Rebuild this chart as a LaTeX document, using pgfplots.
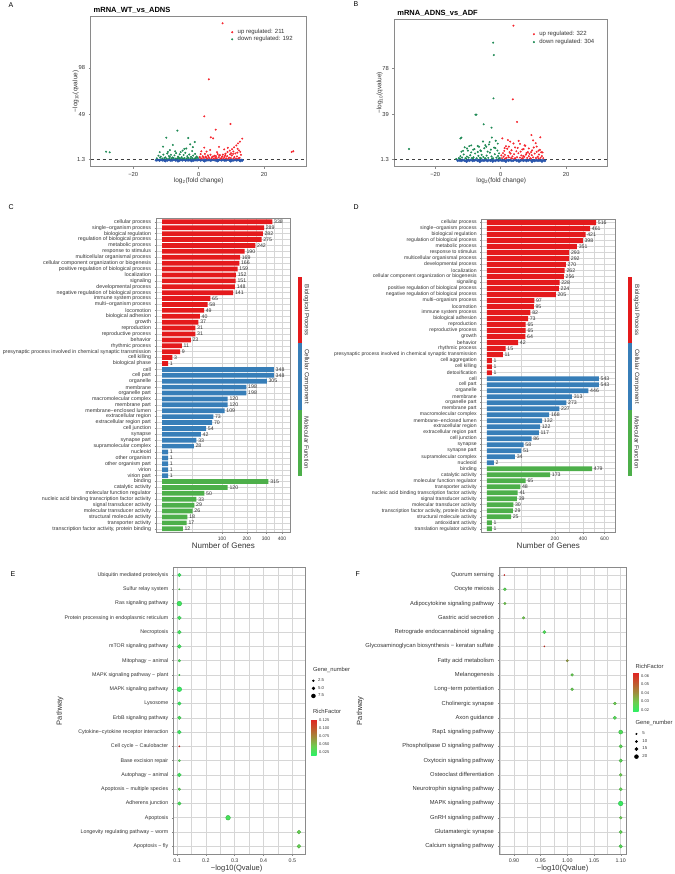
\documentclass[border=0pt]{standalone}
\usepackage{fontspec}
\setmainfont{Liberation Sans}
\usepackage{pgfplots}
\usepackage{pgfplotstable}
\pgfplotsset{compat=1.18}
\newcommand{\fs}[1]{\fontsize{#1}{#1}\selectfont}
\definecolor{bpred}{HTML}{E41A1C}
\definecolor{ccblue}{HTML}{377EB8}
\definecolor{mfgreen}{HTML}{4DAF4A}
\definecolor{vred}{HTML}{F5262E}
\definecolor{vgreen}{HTML}{1F8A55}
\definecolor{vblue}{HTML}{2956AD}
\definecolor{framec}{HTML}{8A8A8A}
\definecolor{gridc}{HTML}{D6D6D6}
\definecolor{txt}{HTML}{333333}

\pgfplotstableread{
i n
0 338
1 289
2 282
3 275
4 242
5 190
6 169
7 166
8 159
9 152
10 151
11 148
12 141
13 65
14 58
15 49
16 40
17 37
18 31
19 31
20 23
21 11
22 9
23 3
24 1
}\CBP
\pgfplotstableread{
i n
25 348
26 348
27 305
28 198
29 198
30 120
31 120
32 109
33 73
34 70
35 54
36 42
37 33
38 28
39 1
40 1
41 1
42 1
43 1
}\CCC
\pgfplotstableread{
i n
44 315
45 120
46 50
47 33
48 29
49 26
50 18
51 17
52 12
}\CMF
\pgfplotstableread{
i n
0 516
1 461
2 421
3 398
4 351
5 293
6 292
7 270
8 262
9 256
10 228
11 224
12 205
13 97
14 95
15 82
16 73
17 65
18 65
19 64
20 42
21 15
22 11
23 1
24 1
25 1
}\DBP
\pgfplotstableread{
i n
26 543
27 543
28 446
29 313
30 273
31 227
32 168
33 132
34 122
35 117
36 86
37 58
38 51
39 34
40 2
}\DCC
\pgfplotstableread{
i n
41 479
42 173
43 65
44 48
45 41
46 39
47 30
48 29
49 25
50 1
51 1
}\DMF
\pgfplotstableread{
i x n rf
0 0.108 6 0.022
1 0.108 1 0.035
2 0.108 9 0.024
3 0.108 7 0.025
4 0.108 7 0.025
5 0.108 7 0.025
6 0.108 4 0.030
7 0.108 1 0.030
8 0.108 9 0.020
9 0.108 6 0.022
10 0.108 6 0.028
11 0.108 7 0.022
12 0.108 1 0.125
13 0.108 3 0.035
14 0.108 7 0.025
15 0.108 4 0.035
16 0.108 6 0.028
17 0.277 9 0.028
18 0.523 7 0.040
19 0.523 7 0.040
}\Edat
\pgfplotstableread{
i x n rf
0 0.882 2 0.063
1 0.883 13 0.026
2 0.883 10 0.030
3 0.918 11 0.030
4 0.957 16 0.024
5 0.957 2 0.060
6 1.000 9 0.038
7 1.009 12 0.028
8 1.009 12 0.028
9 1.089 13 0.029
10 1.089 16 0.025
11 1.100 20 0.024
12 1.100 16 0.026
13 1.100 16 0.026
14 1.100 13 0.029
15 1.100 15 0.027
16 1.100 24 0.020
17 1.100 12 0.029
18 1.100 15 0.027
19 1.100 17 0.025
}\Fdat

\pgfplotsset{
  /pgf/number format/assume math mode=true,
  colorbar shift/.style={},
  colormap={rf}{rgb255(0cm)=(45,240,100); rgb255(1cm)=(110,205,80); rgb255(2cm)=(160,140,60); rgb255(3cm)=(195,85,45); rgb255(4cm)=(225,35,35)},
  vpt/.style={only marks, mark=*, mark size=0.8pt, mark options={draw=none, fill=#1}, color=#1},
  volc/.style={scale only axis, axis line style={framec,line width=0.9pt},
    tick style={framec,line width=0.5pt}, tick align=outside, major tick length=2pt,
    xtick pos=lower, ytick pos=left, ticklabel style={font=\fs{5.8}, text=txt},
    label style={font=\fs{6.5}, text=txt}, legend cell align=left,
    legend image code/.code={\path[draw=none,fill=none] (-1pt,-1pt) rectangle (1pt,1pt); \draw[##1] plot coordinates {(0pt,0pt)};}},
  gob/.style={scale only axis, y dir=reverse, axis line style={framec,line width=0.7pt},
    tick style={framec,line width=0.4pt}, tick align=outside, major tick length=1.5pt, minor tick length=0pt,
    xtick pos=lower, ytick pos=left, xmajorgrids, ymajorgrids, xminorgrids,
    grid style={gridc,line width=0.45pt}, minor grid style={gridc,line width=0.3pt},
    ticklabel style={font=\fs{5.3}, text=txt}, xticklabel style={font=\fs{5}},
    label style={font=\fs{8}, text=txt}, clip=false,
    nodes near coords style={font=\fs{5.2}, text=txt, anchor=west, inner sep=1pt, xshift=0.6pt},
    bar width=0.8},
  dotax/.style={scale only axis, y dir=reverse, axis line style={framec,line width=0.7pt},
    tick style={framec,line width=0.4pt}, tick align=outside, major tick length=1.5pt, minor tick length=0pt,
    xtick pos=lower, ytick pos=left, ytick={0,...,19}, xmajorgrids, ymajorgrids, xminorgrids,
    grid style={gridc,line width=0.5pt}, minor grid style={gridc,line width=0.35pt},
    ticklabel style={font=\fs{5.3}, text=txt}, label style={font=\fs{7.5}, text=txt},
    ymin=-0.54, ymax=19.54, colormap name=rf, clip=false,
    legend style={draw=none, fill=none, inner sep=0pt, nodes={inner sep=0pt}, cells={anchor=west},
      row sep=3.1pt, font=\fs{4.3}, text=txt}},
  szimg/.style={legend image code/.code={\path[draw=none,fill=none] (-2.2pt,-2.2pt) rectangle (2.2pt,2.2pt); \fill[black] (0pt,0pt) circle (#1);}},
}

\begin{document}
\begin{tikzpicture}
\path[use as bounding box] (0,0) rectangle (674pt,-874pt);

% ---------------- Panel A ----------------
\node[anchor=west, font=\fs{7}] at (5pt,-5pt) {A};
\node[anchor=west, font=\bfseries\fs{7.5}] at (90.2pt,-10.8pt) {mRNA\_WT\_vs\_ADNS};
\begin{axis}[volc, at={(90.7pt,-16pt)}, anchor=north west, width=216pt, height=150.7pt,
  xmin=-33, xmax=33, ymin=-6.5, ymax=153,
  xtick={-20,0,20}, xticklabels={−20,0,20}, ytick={1.3,49,98}, yticklabels={1.3,49,98},
  xlabel={log\textsubscript{2}(fold change)}, ylabel={−log\textsubscript{10}(qvalue)},
  xlabel style={at={(axis description cs:0.5,-0.094)}, anchor=center},
  ylabel style={at={(axis description cs:-0.07,0.5)}, anchor=center},
  legend style={at={(0.6495,0.913)}, anchor=north west, draw=none, fill=none, inner sep=0pt,
    nodes={inner sep=0pt}, cells={anchor=west}, row sep=1.2pt, column sep=4.5pt, font=\fs{6}, text=txt}]
\addplot[forget plot, vpt=vblue, mark size=1.25pt] coordinates {
(-13,0.3) (-12.5,0.6) (-12,0.2) (-11.5,0.7) (-11,0.4) (-10.5,0.1) (-10,0.6) (-9.5,0.3) (-9,0.8) (-8.5,0.2)
(-8,0.5) (-7.5,0.9) (-7,0.3) (-6.5,0.6) (-6,0.1) (-5.5,0.7) (-5,0.4) (-4.5,0.9) (-4,0.2) (-3.5,0.6)
(-3,0.3) (-2.5,0.8) (-2,0.5) (-1.5,0.2) (-1,0.7) (-0.5,0.4) (0,0.9) (0.5,0.3) (1,0.6) (1.5,0.1)
(2,0.8) (2.5,0.4) (3,0.7) (3.5,0.2) (4,0.5) (4.5,0.9) (5,0.3) (5.5,0.6) (6,0.2) (6.5,0.8)
(7,0.4) (7.5,0.7) (8,0.1) (8.5,0.5) (9,0.9) (9.5,0.3) (10,0.6) (10.5,0.2) (11,0.7) (11.5,0.4)
(12,0.6) (12.5,0.3) (13,0.5) (13.3,0.2) (-10.2,-0.4) (-6.3,-0.6) (-2.2,-0.3) (1.8,-0.5) (5.7,-0.4) (9.8,-0.6) (12.7,-0.3)};
\addplot[forget plot, no marks, dashed, black!75, line width=0.5pt] coordinates {(-33,1.3) (33,1.3)};
\addplot[vpt=vred] coordinates {
(7.3,145.3) (3.1,86) (1.7,46.8) (5.2,32.7) (9.7,38.7) (4.4,23.5) (13.3,23.2) (12.6,20) (12,18.2) (3.7,24.6)
(1.7,13.7) (28.4,9.1) (28.9,9.8) (11.5,16) (10.8,14) (11.9,12.5) (10.2,12) (9.5,10.5) (10.6,9.6) (8.8,9)
(12.3,10.8) (9.9,7.8) (8.2,7.2) (11.2,7.5) (7.4,6.3) (6.5,5.8) (5.8,6.9) (4.9,5.1) (3.6,6.2) (2.8,5.5)
(1.9,7.1) (1.2,4.6) (0.6,6.8) (0.3,3.9) (2.3,3.2) (3.3,2.6) (4.1,3.7) (5.1,2.9) (6.1,3.4) (7.0,2.5)
(7.9,3.9) (8.7,4.6) (9.3,3.1) (10.1,5.4) (10.9,3.6) (11.7,4.4) (12.5,2.8) (12.9,6.1) (0.9,2.2) (1.6,2.6)
(2.6,2.1) (3.9,2.3) (4.6,2.0) (5.5,2.4) (6.7,2.1) (7.6,2.3) (8.4,2.2) (9.1,2.0) (9.8,2.6) (10.6,2.2)
(11.4,2.1) (12.1,2.4) (0.4,2.8) (1.4,3.6) (2.1,4.2) (3.0,3.9) (4.4,4.4) (5.3,4.6) (6.3,5.2) (7.2,4.3)
(8.1,5.6) (9.6,6.6) (10.5,7.0) (11.8,8.4) (12.7,9.2) (2.4,9.5) (5.6,8.9) (0.8,9.8) (3.5,11.2) (7.8,11.8)
(6.2,14.5) (8.9,13.5)};
\addlegendentry{up regulated: 211}
\addplot[vpt=vgreen] coordinates {
(-6.5,31.7) (-9.9,24.2) (-3.2,23.9) (-7.9,16.5) (-10.9,14.7) (-2.6,17.2) (-28.3,9.4) (-27.2,8.7) (-4.9,10.5) (-3.8,12.8)
(-1.8,14.2) (-1.2,19.6) (-11.9,8.9) (-8.8,11) (-12.3,5.2) (-11.6,4.1) (-10.8,6.3) (-10.2,3.4) (-9.6,7.5) (-9.1,4.8)
(-8.5,6.1) (-8.0,3.3) (-7.4,5.5) (-6.9,7.9) (-6.3,4.2) (-5.8,6.6) (-5.2,3.6) (-4.6,5.9) (-4.1,8.2) (-3.5,4.7)
(-2.9,6.4) (-2.3,3.9) (-1.7,5.3) (-1.1,7.1) (-0.6,4.4) (-0.3,2.9) (-12.8,2.4) (-11.1,2.2) (-10.5,2.6) (-9.8,2.1)
(-9.0,2.5) (-8.3,2.2) (-7.7,2.7) (-7.0,2.1) (-6.5,2.4) (-5.9,2.0) (-5.4,2.6) (-4.8,2.2) (-4.3,2.5) (-3.7,2.1)
(-3.1,2.7) (-2.5,2.2) (-1.9,2.5) (-1.3,2.1) (-0.8,2.4) (-11.8,3.1) (-8.8,3.9) (-6.1,3.0) (-3.3,3.2) (-0.9,3.4)
(-7.2,9.8) (-5.5,9.0) (-9.4,9.2) (-2.0,10.1) (-4.4,12.3)};
\addlegendentry{down regulated: 192}
\end{axis}

% ---------------- Panel B ----------------
\node[anchor=west, font=\fs{7}] at (350pt,-4pt) {B};
\node[anchor=west, font=\bfseries\fs{7.5}] at (393.8pt,-13pt) {mRNA\_ADNS\_vs\_ADF};
\begin{axis}[volc, at={(394.3pt,-19pt)}, anchor=north west, width=213.4pt, height=147.7pt,
  xmin=-32.5, xmax=32.7, ymin=-4.9, ymax=119.2,
  xtick={-20,0,20}, xticklabels={−20,0,20}, ytick={1.3,39,78}, yticklabels={1.3,39,78},
  xlabel={log\textsubscript{2}(fold change)}, ylabel={−log\textsubscript{10}(qvalue)},
  xlabel style={at={(axis description cs:0.501,-0.096)}, anchor=center},
  ylabel style={at={(axis description cs:-0.068,0.5)}, anchor=center},
  legend style={at={(0.6485,0.918)}, anchor=north west, draw=none, fill=none, inner sep=0pt,
    nodes={inner sep=0pt}, cells={anchor=west}, row sep=2pt, column sep=4.5pt, font=\fs{6}, text=txt}]
\addplot[forget plot, vpt=vblue, mark size=1.25pt] coordinates {
(-13.1,0.2) (-12.6,0.5) (-12.1,0.1) (-11.6,0.6) (-11.1,0.3) (-10.6,0.0) (-10.1,0.5) (-9.6,0.2) (-9.1,0.7) (-8.6,0.1)
(-8.1,0.4) (-7.6,0.8) (-7.1,0.2) (-6.6,0.5) (-6.1,0.0) (-5.6,0.6) (-5.1,0.3) (-4.6,0.8) (-4.1,0.1) (-3.6,0.5)
(-3.1,0.2) (-2.6,0.7) (-2.1,0.4) (-1.6,0.1) (-1.1,0.6) (-0.6,0.3) (-0.1,0.8) (0.4,0.2) (0.9,0.5) (1.4,0.0)
(1.9,0.7) (2.4,0.3) (2.9,0.6) (3.4,0.1) (3.9,0.4) (4.4,0.8) (4.9,0.2) (5.4,0.5) (5.9,0.1) (6.4,0.7)
(6.9,0.3) (7.4,0.6) (7.9,0.0) (8.4,0.4) (8.9,0.8) (9.4,0.2) (9.9,0.5) (10.4,0.1) (10.9,0.6) (11.4,0.3)
(11.9,0.5) (12.4,0.2) (12.9,0.4) (13.5,0.1) (-10.4,-0.5) (-6.4,-0.6) (-2.4,-0.4) (1.6,-0.5) (5.6,-0.4) (9.6,-0.6) (12.6,-0.4)};
\addplot[forget plot, no marks, dashed, black!75, line width=0.5pt] coordinates {(-32.5,1.3) (32.7,1.3)};
\addplot[vpt=vred] coordinates {
(3.9,113.6) (3.7,51.7) (5,32.7) (9.4,21.7) (12.1,19.8) (0.5,18.9) (2.2,17.5) (5.5,16.8) (9.9,17.2) (11,12)
(2.5,12) (5.9,14.3) (4.4,11.3) (7.3,13.1) (10.7,14.9) (8.6,10.4) (1.2,10.7) (3.3,8.9) (6.6,9.6) (11.6,8.6)
(12.4,7.2) (9.3,7.4) (7.9,6.6) (0.4,2.3) (0.9,3.5) (1.3,5.1) (1.8,2.6) (2.3,4.2) (2.7,7.3) (3.2,2.4)
(3.6,3.8) (4.1,5.6) (4.5,2.2) (5.0,3.1) (5.4,6.4) (5.9,2.7) (6.3,4.6) (6.8,2.3) (7.2,3.4) (7.7,5.2)
(8.1,2.5) (8.6,3.9) (9.0,2.2) (9.5,4.8) (9.9,2.9) (10.4,6.1) (10.8,2.4) (11.3,3.5) (11.7,5.3) (12.2,2.6)
(12.6,4.0) (13.0,2.3) (1.1,8.4) (2.0,10.2) (3.0,6.2) (4.8,8.1) (6.1,7.8) (7.0,9.9) (8.3,7.3) (9.6,8.8)
(10.1,11.2) (11.0,7.6) (12.0,9.3) (0.7,6.5) (1.6,12.3) (3.9,14.6) (2.9,16.2) (6.9,4.1) (8.8,5.9) (0.2,4.6)
(5.2,10.9) (7.5,12.7) (4.2,2.0) (12.8,7.1) (1.4,2.0) (2.5,2.9) (3.4,2.1) (6.5,2.0) (9.2,2.0) (11.6,2.1)};
\addlegendentry{up regulated: 322}
\addplot[vpt=vgreen] coordinates {
(-2.3,99.3) (-2.1,88.9) (-2.2,52.5) (-7.4,38.8) (-7.7,38.8) (-5.2,30.7) (-2.8,27.9) (-12,19.5) (-12.3,18.8) (-2.7,19.6)
(-5.4,16.3) (-9.0,13.0) (-3.6,13.8) (-4.4,11.9) (-10.3,10.4) (-7.0,12.5) (-28,10) (-11.5,8.4) (-8.4,9.4) (-6.2,8.8)
(-1.6,10.7) (-0.9,14.5) (-0.3,2.4) (-0.8,4.1) (-1.3,2.7) (-1.8,5.6) (-2.3,2.2) (-2.8,3.7) (-3.3,6.9) (-3.8,2.5)
(-4.3,4.4) (-4.8,2.2) (-5.3,3.3) (-5.8,5.1) (-6.3,2.6) (-6.8,4.2) (-7.3,2.3) (-7.8,6.2) (-8.3,3.0) (-8.8,2.4)
(-9.3,4.7) (-9.8,2.7) (-10.3,3.6) (-10.8,2.2) (-11.3,5.4) (-11.8,2.8) (-12.3,3.9) (-12.8,2.3) (-1.0,8.7) (-2.0,11.1)
(-3.0,9.4) (-4.0,7.8) (-5.0,10.6) (-6.0,8.2) (-7.0,7.4) (-8.0,9.9) (-9.0,7.1) (-10.0,8.6) (-11.0,11.4) (-12.0,7.7)
(-3.4,15.8) (-4.7,13.2) (-1.5,16.9) (-0.5,6.3) (-6.6,11.8) (-9.6,12.4) (-0.6,2.0) (-2.6,2.0) (-4.6,2.0) (-6.0,2.1)
(-8.5,2.0) (-10.6,2.0) (-12.5,2.0) (-13.6,1.6)};
\addlegendentry{down regulated: 304}
\end{axis}

% ---------------- Panel C ----------------
\node[anchor=west, font=\fs{7}] at (5pt,-206.7pt) {C};
\begin{axis}[gob, at={(156pt,-218.3pt)}, anchor=north west, width=134.7pt, height=314pt,
  xmin=-1.0, xmax=21.45, ymin=-0.6, ymax=52.6,
  xtick={10,14.1421,17.3205,20}, xticklabels={100,200,300,400},
  minor xtick={5,12.071,15.731,18.660},
  ytick={0,...,52},
  yticklabel style={font=\fs{5.3}},
  yticklabels={cellular process, single−organism process, biological regulation, regulation of biological process, metabolic process, response to stimulus, multicellular organismal process, cellular component organization or biogenesis, positive regulation of biological process, localization, signaling, developmental process, negative regulation of biological process, immune system process, multi−organism process, locomotion, biological adhesion, growth, reproduction, reproductive process, behavior, rhythmic process, presynaptic process involved in chemical synaptic transmission, cell killing, biological phase, cell, cell part, organelle, membrane, organelle part, macromolecular complex, membrane part, membrane−enclosed lumen, extracellular region, extracellular region part, cell junction, synapse, synapse part, supramolecular complex, nucleoid, other organism, other organism part, virion, virion part, binding, catalytic activity, molecular function regulator, nucleic acid binding transcription factor activity, signal transducer activity, molecular transducer activity, structural molecule activity, transporter activity, {transcription factor activity, protein binding}},
  xlabel={Number of Genes},
  xlabel style={at={(axis description cs:0.5,-0.043)}, anchor=center}]
\addplot[xbar, bar shift=0pt, fill=bpred, draw=none, point meta=explicit, nodes near coords] table[x expr={sqrt(\thisrow{n})}, y=i, meta=n] {\CBP};
\addplot[xbar, bar shift=0pt, fill=ccblue, draw=none, point meta=explicit, nodes near coords] table[x expr={sqrt(\thisrow{n})}, y=i, meta=n] {\CCC};
\addplot[xbar, bar shift=0pt, fill=mfgreen, draw=none, point meta=explicit, nodes near coords] table[x expr={sqrt(\thisrow{n})}, y=i, meta=n] {\CMF};
\end{axis}
\fill[bpred] (297.7pt,-277.3pt) rectangle (301.7pt,-343.3pt);
\fill[ccblue] (297.7pt,-343.3pt) rectangle (301.7pt,-410pt);
\fill[mfgreen] (297.7pt,-410pt) rectangle (301.7pt,-475.7pt);
\node[rotate=-90, font=\fs{6.2}, text=txt] at (306.5pt,-310.3pt) {Biological Process};
\node[rotate=-90, font=\fs{6.2}, text=txt] at (306.5pt,-376.7pt) {Cellular Component};
\node[rotate=-90, font=\fs{6.2}, text=txt] at (306.5pt,-442.9pt) {Molecular Function};

% ---------------- Panel D ----------------
\node[anchor=west, font=\fs{7}] at (350pt,-206.7pt) {D};
\begin{axis}[gob, at={(481.7pt,-219pt)}, anchor=north west, width=134pt, height=313.3pt,
  xmin=-1.1, xmax=26.8, ymin=-0.6, ymax=51.6,
  xtick={14.1421,20,24.4949}, xticklabels={200,400,600},
  minor xtick={7.071,17.071,22.247},
  ytick={0,...,51},
  yticklabel style={font=\fs{5.1}},
  yticklabels={cellular process, single−organism process, biological regulation, regulation of biological process, metabolic process, response to stimulus, multicellular organismal process, developmental process, localization, cellular component organization or biogenesis, signaling, positive regulation of biological process, negative regulation of biological process, multi−organism process, locomotion, immune system process, biological adhesion, reproduction, reproductive process, growth, behavior, rhythmic process, presynaptic process involved in chemical synaptic transmission, cell aggregation, cell killing, detoxification, cell, cell part, organelle, membrane, organelle part, membrane part, macromolecular complex, membrane−enclosed lumen, extracellular region, extracellular region part, cell junction, synapse, synapse part, supramolecular complex, nucleoid, binding, catalytic activity, molecular function regulator, transporter activity, nucleic acid binding transcription factor activity, signal transducer activity, molecular transducer activity, {transcription factor activity, protein binding}, structural molecule activity, antioxidant activity, translation regulator activity},
  xlabel={Number of Genes},
  xlabel style={at={(axis description cs:0.497,-0.043)}, anchor=center}]
\addplot[xbar, bar shift=0pt, fill=bpred, draw=none, point meta=explicit, nodes near coords] table[x expr={sqrt(\thisrow{n})}, y=i, meta=n] {\DBP};
\addplot[xbar, bar shift=0pt, fill=ccblue, draw=none, point meta=explicit, nodes near coords] table[x expr={sqrt(\thisrow{n})}, y=i, meta=n] {\DCC};
\addplot[xbar, bar shift=0pt, fill=mfgreen, draw=none, point meta=explicit, nodes near coords] table[x expr={sqrt(\thisrow{n})}, y=i, meta=n] {\DMF};
\end{axis}
\fill[bpred] (628pt,-277.3pt) rectangle (632pt,-343.3pt);
\fill[ccblue] (628pt,-343.3pt) rectangle (632pt,-410pt);
\fill[mfgreen] (628pt,-410pt) rectangle (632pt,-475.7pt);
\node[rotate=-90, font=\fs{6.2}, text=txt] at (636.8pt,-310.3pt) {Biological Process};
\node[rotate=-90, font=\fs{6.2}, text=txt] at (636.8pt,-376.7pt) {Cellular Component};
\node[rotate=-90, font=\fs{6.2}, text=txt] at (636.8pt,-442.9pt) {Molecular Function};

% ---------------- Panel E ----------------
\node[anchor=west, font=\fs{7}] at (7pt,-574.3pt) {E};
\begin{axis}[dotax, at={(173.3pt,-567.3pt)}, anchor=north west, width=132pt, height=286.7pt,
  xmin=0.087, xmax=0.545,
  xtick={0.1,0.2,0.3,0.4,0.5}, xticklabels={0.1,0.2,0.3,0.4,0.5}, minor xtick={0.15,0.25,0.35,0.45},
  yticklabels={Ubiquitin mediated proteolysis, Sulfur relay system, Ras signaling pathway, Protein processing in endoplasmic reticulum, Necroptosis, mTOR signaling pathway, Mitophagy − animal, MAPK signaling pathway − plant, MAPK signaling pathway, Lysosome, ErbB signaling pathway, Cytokine−cytokine receptor interaction, Cell cycle − Caulobacter, Base excision repair, Autophagy − animal, Apoptosis − multiple species, Adherens junction, Apoptosis, Longevity regulating pathway − worm, Apoptosis − fly},
  xlabel={−log10(Qvalue)}, ylabel={Pathway},
  xlabel style={at={(axis description cs:0.48,-0.05)}, anchor=center},
  ylabel style={at={(axis description cs:-0.858,0.5)}, anchor=center},
  point meta min=0.016, point meta max=0.127,
  colorbar, colorbar style={at={(parent axis.north east)}, anchor=north west, xshift=5.7pt, yshift=-151.7pt,
    scale only axis, width=5.7pt, height=36pt, ytick={0.025,0.05,0.075,0.1,0.125}, scaled y ticks=false,
    yticklabels={0.025,0.050,0.075,0.100,0.125}, yticklabel style={font=\fs{4}, text=txt, xshift=-1pt},
    major tick length=0pt, axis line style={draw=none}},
  legend style={at={(1.0435,0.6128)}, anchor=north west, column sep=2.5pt}]
\addplot[forget plot, scatter, only marks, mark=*, scatter src=explicit,
  visualization depends on={\thisrow{n}\as\gn},
  scatter/@pre marker code/.append style={/tikz/mark size=0.45+0.21*\gn}]
  table[x=x, y=i, meta=rf] {\Edat};
\addlegendimage{szimg=0.975pt}
\addlegendentry{2.5}
\addlegendimage{szimg=1.5pt}
\addlegendentry{5.0}
\addlegendimage{szimg=2.0pt}
\addlegendentry{7.5}
\end{axis}
\node[anchor=west, font=\fs{5.8}, text=txt] at (309.5pt,-670pt) {Gene\_number};
\node[anchor=west, font=\fs{5.8}, text=txt] at (309.5pt,-711.7pt) {RichFactor};

% ---------------- Panel F ----------------
\node[anchor=west, font=\fs{7}] at (352pt,-574.3pt) {F};
\begin{axis}[dotax, at={(499pt,-567.3pt)}, anchor=north west, width=127.3pt, height=286.7pt,
  xmin=0.872, xmax=1.1105,
  xtick={0.90,0.95,1.00,1.05,1.10}, xticklabels={0.90,0.95,1.00,1.05,1.10}, minor xtick={0.875,0.925,0.975,1.025,1.075},
  yticklabel style={font=\fs{5.8}},
  yticklabels={Quorum sensing, Oocyte meiosis, Adipocytokine signaling pathway, Gastric acid secretion, Retrograde endocannabinoid signaling, Glycosaminoglycan biosynthesis − keratan sulfate, Fatty acid metabolism, Melanogenesis, Long−term potentiation, Cholinergic synapse, Axon guidance, Rap1 signaling pathway, Phospholipase D signaling pathway, Oxytocin signaling pathway, Osteoclast differentiation, Neurotrophin signaling pathway, MAPK signaling pathway, GnRH signaling pathway, Glutamatergic synapse, Calcium signaling pathway},
  xlabel={−log10(Qvalue)}, ylabel={Pathway},
  xlabel style={at={(axis description cs:0.5,-0.05)}, anchor=center},
  ylabel style={at={(axis description cs:-1.09,0.5)}, anchor=center},
  point meta min=0.018, point meta max=0.0635,
  colorbar, colorbar style={at={(parent axis.north east)}, anchor=north west, xshift=6.7pt, yshift=-105.4pt,
    scale only axis, width=5.7pt, height=39pt, ytick={0.02,0.03,0.04,0.05,0.06}, scaled y ticks=false,
    yticklabels={0.02,0.03,0.04,0.05,0.06}, yticklabel style={font=\fs{4}, text=txt, xshift=-1pt},
    major tick length=0pt, axis line style={draw=none}},
  legend style={at={(1.061,0.4273)}, anchor=north west, column sep=3.8pt}]
\addplot[forget plot, scatter, only marks, mark=*, scatter src=explicit,
  visualization depends on={\thisrow{n}\as\gn},
  scatter/@pre marker code/.append style={/tikz/mark size=0.4+0.08*\gn}]
  table[x=x, y=i, meta=rf] {\Fdat};
\addlegendimage{szimg=0.8pt}
\addlegendentry{5}
\addlegendimage{szimg=1.2pt}
\addlegendentry{10}
\addlegendimage{szimg=1.6pt}
\addlegendentry{15}
\addlegendimage{szimg=2.0pt}
\addlegendentry{20}
\end{axis}
\node[anchor=west, font=\fs{5.8}, text=txt] at (632pt,-666pt) {RichFactor};
\node[anchor=west, font=\fs{5.8}, text=txt] at (632pt,-723.3pt) {Gene\_number};
\end{tikzpicture}
\end{document}
